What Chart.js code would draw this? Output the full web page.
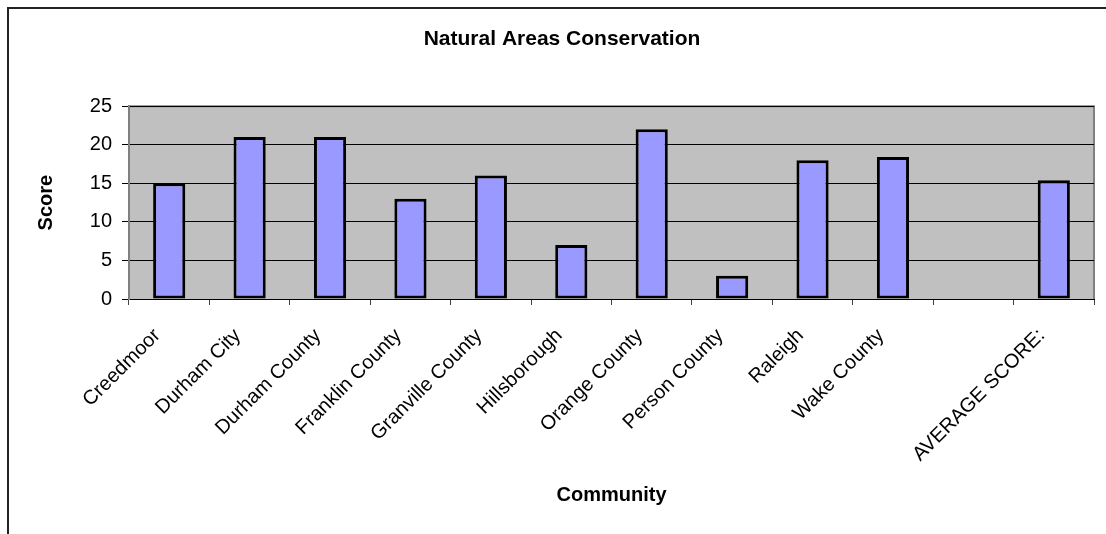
<!DOCTYPE html>
<html>
<head>
<meta charset="utf-8">
<title>Natural Areas Conservation</title>
<script src="https://cdn.jsdelivr.net/npm/chart.js@4/dist/chart.umd.min.js"></script>
<style>
  html, body { margin: 0; padding: 0; background: #fff; }
  #wrap { width: 1106px; height: 534px; }
</style>
</head>
<body>
<div id="wrap"><canvas id="scoreChart" width="1106" height="534"></canvas></div>
<script>
// Scores per community (the blank slot separates the average from the rest)
const communities = ['Creedmoor', 'Durham City', 'Durham County', 'Franklin County', 'Granville County',
    'Hillsborough', 'Orange County', 'Person County', 'Raleigh', 'Wake County', '', 'AVERAGE SCORE:'];
const scores = [15, 21, 21, 13, 16, 7, 22, 3, 18, 18.4, null, 15.4];
const scoreTicks = [0, 5, 10, 15, 20, 25];

// Gray plot background plus the outer frame lines
const plotBackground = {
    id: 'plotBackground',
    beforeDraw(chart) {
        const { ctx, chartArea: a } = chart;
        ctx.save();
        ctx.fillStyle = '#c0c0c0';
        ctx.fillRect(a.left, a.top, a.right - a.left, a.bottom - a.top);
        ctx.strokeStyle = '#808080';
        ctx.lineWidth = 2;
        ctx.beginPath();
        ctx.moveTo(a.left, a.top);
        ctx.lineTo(a.right, a.top);
        ctx.lineTo(a.right, a.bottom);
        ctx.stroke();
        // chart frame
        ctx.strokeStyle = '#222';
        ctx.lineWidth = 2;
        ctx.beginPath();
        ctx.moveTo(8, 534);
        ctx.lineTo(8, 8);
        ctx.lineTo(1106, 8);
        ctx.stroke();
        ctx.restore();
    }
};

document.addEventListener('DOMContentLoaded', function() {
    const ctx = document.getElementById('scoreChart').getContext('2d');
    new Chart(ctx, {
        type: 'bar',
        data: {
            labels: communities,
            datasets: [{
                label: 'Score',
                data: scores,
                backgroundColor: '#9999ff',
                borderColor: '#000',
                borderWidth: 3,
                borderSkipped: false,
                categoryPercentage: 1,
                barPercentage: 0.4
            }]
        },
        options: {
            responsive: false,
            animation: false,
            layout: { padding: { left: 30, right: 12, top: 0, bottom: 0 } },
            plugins: {
                legend: { display: false },
                tooltip: { enabled: false },
                title: {
                    display: true,
                    text: 'Natural Areas Conservation',
                    color: '#000',
                    font: { family: 'Liberation Sans, Arial', size: 21, weight: 'bold', lineHeight: 1.2 },
                    padding: { top: 27, bottom: 54 }
                }
            },
            scales: {
                x: {
                    afterFit(scale) { scale.height = 235; },
                    grid: { display: true, drawOnChartArea: false, drawTicks: true, tickLength: 6, color: '#444', offset: true },
                    border: { display: true, color: '#000', width: 1 },
                    ticks: {
                        color: '#000',
                        minRotation: 45,
                        maxRotation: 45,
                        autoSkip: false,
                        padding: 19,
                        labelOffset: -12,
                        font: { family: 'Liberation Sans, Arial', size: 20 }
                    },
                    title: {
                        display: true,
                        text: 'Community',
                        color: '#000',
                        font: { family: 'Liberation Sans, Arial', size: 20, weight: 'bold', lineHeight: 1.2 },
                        padding: { top: 0, bottom: 27 }
                    }
                },
                y: {
                    min: 0,
                    max: 25,
                    afterFit(scale) { scale.width = 99; },
                    afterBuildTicks(scale) { scale.ticks = scoreTicks.map(v => ({ value: v })); },
                    grid: { color: '#000', lineWidth: 1, tickLength: 7 },
                    border: { display: true, color: '#808080', width: 2 },
                    ticks: {
                        color: '#000',
                        padding: 10,
                        font: { family: 'Liberation Sans, Arial', size: 20 }
                    },
                    title: {
                        display: true,
                        text: 'Score',
                        color: '#000',
                        font: { family: 'Liberation Sans, Arial', size: 20, weight: 'bold', lineHeight: 1.2 },
                        padding: { top: 4, bottom: 0 }
                    }
                }
            }
        },
        plugins: [plotBackground]
    });
});
</script>
</body>
</html>
